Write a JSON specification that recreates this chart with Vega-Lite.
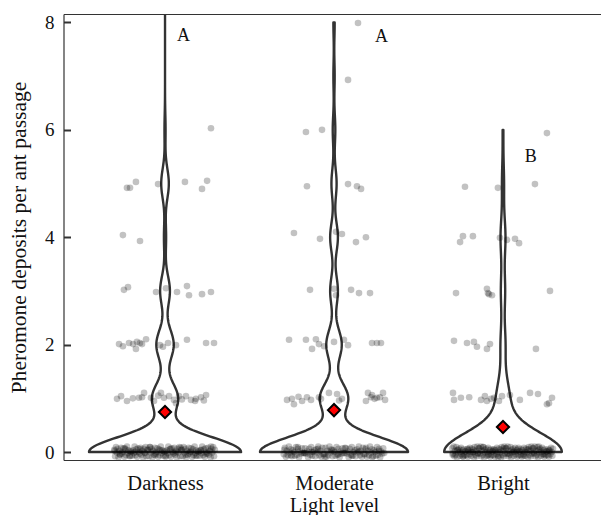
{
"$schema": "https://vega.github.io/schema/vega-lite/v6.json",
"padding": {"left": 7.5, "top": 13, "right": 0, "bottom": 0},
"spacing": 0,
"config": {
  "view": {"stroke": null},
  "font": "Liberation Serif",
  "axis": {"domainColor": "#333333", "domainWidth": 1.2, "grid": false, "labelFont": "Liberation Serif", "titleFont": "Liberation Serif", "titleFontWeight": "normal", "titleColor": "#111111", "labelColor": "#111111", "titleFontSize": 20.5, "labelFontSize": 19}
},
"resolve": {"scale": {"x": "independent", "y": "independent"}},
"datasets": {
"darkness": [
{"value":9,"jx":0.05,"jy":9.0},
{"value":6,"jx":0.272,"jy":6.03},
{"value":5,"jx":-0.225,"jy":4.92},{"value":5,"jx":-0.207,"jy":4.92},{"value":5,"jx":-0.172,"jy":5.03},{"value":5,"jx":-0.041,"jy":4.99},{"value":5,"jx":0.118,"jy":5.03},{"value":5,"jx":0.249,"jy":5.05},{"value":5,"jx":0.219,"jy":4.9},
{"value":4,"jx":-0.249,"jy":4.04},{"value":4,"jx":-0.148,"jy":3.93},
{"value":3,"jx":-0.243,"jy":3.02},{"value":3,"jx":-0.219,"jy":3.07},{"value":3,"jx":-0.053,"jy":2.98},{"value":3,"jx":0.006,"jy":3.05},{"value":3,"jx":0.071,"jy":2.98},{"value":3,"jx":0.13,"jy":3.09},{"value":3,"jx":0.142,"jy":2.92},{"value":3,"jx":0.219,"jy":2.94},{"value":3,"jx":0.272,"jy":2.98},
{"value":2,"jx":-0.272,"jy":2.01},{"value":2,"jx":-0.249,"jy":1.97},{"value":2,"jx":-0.213,"jy":2.03},{"value":2,"jx":-0.189,"jy":2.01},{"value":2,"jx":-0.166,"jy":2.05},{"value":2,"jx":-0.148,"jy":2.03},{"value":2,"jx":-0.172,"jy":1.92},{"value":2,"jx":-0.136,"jy":2.01},{"value":2,"jx":-0.112,"jy":2.1},{"value":2,"jx":-0.03,"jy":1.99},{"value":2,"jx":-0.012,"jy":1.96},{"value":2,"jx":0.018,"jy":2.03},{"value":2,"jx":0.065,"jy":1.99},{"value":2,"jx":0.13,"jy":2.09},{"value":2,"jx":0.243,"jy":2.03},{"value":2,"jx":0.29,"jy":2.03},
{"value":1,"jx":-0.26,"jy":1.04},{"value":1,"jx":-0.284,"jy":0.99},{"value":1,"jx":-0.225,"jy":0.95},{"value":1,"jx":-0.154,"jy":1.01},{"value":1,"jx":-0.124,"jy":1.1},{"value":1,"jx":-0.083,"jy":1.01},{"value":1,"jx":-0.065,"jy":0.95},{"value":1,"jx":-0.024,"jy":1.1},{"value":1,"jx":-0.006,"jy":1.01},{"value":1,"jx":0.024,"jy":1.04},{"value":1,"jx":0.053,"jy":0.97},{"value":1,"jx":0.083,"jy":1.04},{"value":1,"jx":0.124,"jy":1.04},{"value":1,"jx":0.154,"jy":0.97},{"value":1,"jx":0.183,"jy":0.99},{"value":1,"jx":0.213,"jy":1.02},{"value":1,"jx":0.243,"jy":1.06},{"value":1,"jx":0.065,"jy":0.91},{"value":1,"jx":-0.136,"jy":1.02},{"value":1,"jx":0.178,"jy":0.95},
{"value":1,"jx":-0.19,"jy":1.0},{"value":1,"jx":0.1,"jy":0.98},{"value":1,"jx":-0.04,"jy":1.05},{"value":1,"jx":0.23,"jy":0.96},
{"value":0,"jx":-0.3,"jy":0.04},{"value":0,"jx":-0.295,"jy":-0.08},{"value":0,"jx":-0.29,"jy":0.09},{"value":0,"jx":-0.285,"jy":-0.01},{"value":0,"jx":-0.28,"jy":0.06},{"value":0,"jx":-0.275,"jy":-0.1},{"value":0,"jx":-0.27,"jy":0.02},{"value":0,"jx":-0.265,"jy":-0.05},{"value":0,"jx":-0.26,"jy":0.08},{"value":0,"jx":-0.255,"jy":-0.03},
{"value":0,"jx":-0.25,"jy":0.0},{"value":0,"jx":-0.245,"jy":0.07},{"value":0,"jx":-0.24,"jy":-0.09},{"value":0,"jx":-0.235,"jy":0.05},{"value":0,"jx":-0.23,"jy":-0.06},{"value":0,"jx":-0.225,"jy":0.1},{"value":0,"jx":-0.22,"jy":-0.02},{"value":0,"jx":-0.215,"jy":0.03},{"value":0,"jx":-0.21,"jy":-0.07},{"value":0,"jx":-0.205,"jy":0.01},
{"value":0,"jx":-0.2,"jy":0.01},{"value":0,"jx":-0.195,"jy":-0.07},{"value":0,"jx":-0.19,"jy":0.03},{"value":0,"jx":-0.185,"jy":-0.02},{"value":0,"jx":-0.18,"jy":0.1},{"value":0,"jx":-0.175,"jy":-0.06},{"value":0,"jx":-0.17,"jy":0.05},{"value":0,"jx":-0.165,"jy":-0.09},{"value":0,"jx":-0.16,"jy":0.07},{"value":0,"jx":-0.155,"jy":0.0},
{"value":0,"jx":-0.15,"jy":-0.03},{"value":0,"jx":-0.145,"jy":0.08},{"value":0,"jx":-0.14,"jy":-0.05},{"value":0,"jx":-0.135,"jy":0.02},{"value":0,"jx":-0.13,"jy":-0.1},{"value":0,"jx":-0.125,"jy":0.06},{"value":0,"jx":-0.12,"jy":-0.01},{"value":0,"jx":-0.115,"jy":0.09},{"value":0,"jx":-0.11,"jy":-0.08},{"value":0,"jx":-0.105,"jy":0.04},
{"value":0,"jx":-0.1,"jy":0.04},{"value":0,"jx":-0.095,"jy":-0.08},{"value":0,"jx":-0.09,"jy":0.09},{"value":0,"jx":-0.085,"jy":-0.01},{"value":0,"jx":-0.08,"jy":0.06},{"value":0,"jx":-0.075,"jy":-0.1},{"value":0,"jx":-0.07,"jy":0.02},{"value":0,"jx":-0.065,"jy":-0.05},{"value":0,"jx":-0.06,"jy":0.08},{"value":0,"jx":-0.055,"jy":-0.03},
{"value":0,"jx":-0.05,"jy":0.0},{"value":0,"jx":-0.045,"jy":0.07},{"value":0,"jx":-0.04,"jy":-0.09},{"value":0,"jx":-0.035,"jy":0.05},{"value":0,"jx":-0.03,"jy":-0.06},{"value":0,"jx":-0.025,"jy":0.1},{"value":0,"jx":-0.02,"jy":-0.02},{"value":0,"jx":-0.015,"jy":0.03},{"value":0,"jx":-0.01,"jy":-0.07},{"value":0,"jx":-0.005,"jy":0.01},
{"value":0,"jx":0.0,"jy":0.01},{"value":0,"jx":0.005,"jy":-0.07},{"value":0,"jx":0.01,"jy":0.03},{"value":0,"jx":0.015,"jy":-0.02},{"value":0,"jx":0.02,"jy":0.1},{"value":0,"jx":0.025,"jy":-0.06},{"value":0,"jx":0.03,"jy":0.05},{"value":0,"jx":0.035,"jy":-0.09},{"value":0,"jx":0.04,"jy":0.07},{"value":0,"jx":0.045,"jy":0.0},
{"value":0,"jx":0.05,"jy":-0.03},{"value":0,"jx":0.055,"jy":0.08},{"value":0,"jx":0.06,"jy":-0.05},{"value":0,"jx":0.065,"jy":0.02},{"value":0,"jx":0.07,"jy":-0.1},{"value":0,"jx":0.075,"jy":0.06},{"value":0,"jx":0.08,"jy":-0.01},{"value":0,"jx":0.085,"jy":0.09},{"value":0,"jx":0.09,"jy":-0.08},{"value":0,"jx":0.095,"jy":0.04},
{"value":0,"jx":0.1,"jy":0.04},{"value":0,"jx":0.105,"jy":-0.08},{"value":0,"jx":0.11,"jy":0.09},{"value":0,"jx":0.115,"jy":-0.01},{"value":0,"jx":0.12,"jy":0.06},{"value":0,"jx":0.125,"jy":-0.1},{"value":0,"jx":0.13,"jy":0.02},{"value":0,"jx":0.135,"jy":-0.05},{"value":0,"jx":0.14,"jy":0.08},{"value":0,"jx":0.145,"jy":-0.03},
{"value":0,"jx":0.15,"jy":0.0},{"value":0,"jx":0.155,"jy":0.07},{"value":0,"jx":0.16,"jy":-0.09},{"value":0,"jx":0.165,"jy":0.05},{"value":0,"jx":0.17,"jy":-0.06},{"value":0,"jx":0.175,"jy":0.1},{"value":0,"jx":0.18,"jy":-0.02},{"value":0,"jx":0.185,"jy":0.03},{"value":0,"jx":0.19,"jy":-0.07},{"value":0,"jx":0.195,"jy":0.01},
{"value":0,"jx":0.2,"jy":0.01},{"value":0,"jx":0.205,"jy":-0.07},{"value":0,"jx":0.21,"jy":0.03},{"value":0,"jx":0.215,"jy":-0.02},{"value":0,"jx":0.22,"jy":0.1},{"value":0,"jx":0.225,"jy":-0.06},{"value":0,"jx":0.23,"jy":0.05},{"value":0,"jx":0.235,"jy":-0.09},{"value":0,"jx":0.24,"jy":0.07},{"value":0,"jx":0.245,"jy":0.0},
{"value":0,"jx":0.25,"jy":-0.03},{"value":0,"jx":0.255,"jy":0.08},{"value":0,"jx":0.26,"jy":-0.05},{"value":0,"jx":0.265,"jy":0.02},{"value":0,"jx":0.27,"jy":-0.1},{"value":0,"jx":0.275,"jy":0.06},{"value":0,"jx":0.28,"jy":-0.01},{"value":0,"jx":0.285,"jy":0.09},{"value":0,"jx":0.29,"jy":-0.08},{"value":0,"jx":0.295,"jy":0.04},
{"value":0,"jx":-0.2975,"jy":0.02},{"value":0,"jx":-0.2675,"jy":-0.04},{"value":0,"jx":-0.2375,"jy":0.07},{"value":0,"jx":-0.2075,"jy":-0.08},{"value":0,"jx":-0.1775,"jy":0.0},{"value":0,"jx":-0.1475,"jy":0.05},{"value":0,"jx":-0.1175,"jy":-0.02},{"value":0,"jx":-0.0875,"jy":0.09},{"value":0,"jx":-0.0575,"jy":-0.06},{"value":0,"jx":-0.0275,"jy":0.03},
{"value":0,"jx":0.0025,"jy":-0.09},{"value":0,"jx":0.0325,"jy":0.06},{"value":0,"jx":0.0625,"jy":-0.01},{"value":0,"jx":0.0925,"jy":0.08},{"value":0,"jx":0.1225,"jy":-0.05},{"value":0,"jx":0.1525,"jy":0.01},{"value":0,"jx":0.1825,"jy":-0.07},{"value":0,"jx":0.2125,"jy":0.04},{"value":0,"jx":0.2425,"jy":-0.03},{"value":0,"jx":0.2725,"jy":0.1}
],
"moderate": [
{"value":8,"jx":0.142,"jy":7.99},{"value":7,"jx":0.083,"jy":6.93},{"value":6,"jx":-0.166,"jy":5.96},{"value":6,"jx":-0.071,"jy":6.0},
{"value":5,"jx":-0.16,"jy":4.95},{"value":5,"jx":0.083,"jy":4.99},{"value":5,"jx":0.136,"jy":4.95},{"value":5,"jx":0.16,"jy":4.9},
{"value":4,"jx":-0.237,"jy":4.08},{"value":4,"jx":-0.083,"jy":3.97},{"value":4,"jx":0.012,"jy":4.1},{"value":4,"jx":0.047,"jy":4.06},{"value":4,"jx":0.13,"jy":3.91},{"value":4,"jx":0.189,"jy":4.0},
{"value":3,"jx":-0.142,"jy":3.02},{"value":3,"jx":0.0,"jy":3.04},{"value":3,"jx":0.012,"jy":2.92},{"value":3,"jx":0.101,"jy":3.02},{"value":3,"jx":0.148,"jy":2.96},{"value":3,"jx":0.213,"jy":2.96},
{"value":2,"jx":-0.266,"jy":2.09},{"value":2,"jx":-0.166,"jy":2.09},{"value":2,"jx":-0.107,"jy":2.1},{"value":2,"jx":-0.13,"jy":1.92},{"value":2,"jx":-0.089,"jy":2.01},{"value":2,"jx":-0.059,"jy":1.97},{"value":2,"jx":0.0,"jy":2.05},{"value":2,"jx":0.059,"jy":2.09},{"value":2,"jx":0.083,"jy":1.99},{"value":2,"jx":0.225,"jy":2.03},{"value":2,"jx":0.254,"jy":2.03},{"value":2,"jx":0.278,"jy":2.03},
{"value":1,"jx":-0.278,"jy":0.97},{"value":1,"jx":-0.249,"jy":0.99},{"value":1,"jx":-0.237,"jy":0.89},{"value":1,"jx":-0.189,"jy":0.95},{"value":1,"jx":-0.16,"jy":1.02},{"value":1,"jx":-0.089,"jy":1.02},{"value":1,"jx":-0.077,"jy":0.99},{"value":1,"jx":-0.03,"jy":1.1},{"value":1,"jx":0.018,"jy":1.08},{"value":1,"jx":0.047,"jy":0.99},{"value":1,"jx":0.189,"jy":0.95},{"value":1,"jx":0.201,"jy":1.1},{"value":1,"jx":0.225,"jy":1.06},{"value":1,"jx":0.254,"jy":1.01},{"value":1,"jx":0.29,"jy":1.1},{"value":1,"jx":0.302,"jy":0.97},{"value":1,"jx":0.219,"jy":1.02},{"value":1,"jx":-0.136,"jy":0.97},{"value":1,"jx":0.272,"jy":1.02},
{"value":1,"jx":-0.21,"jy":1.03},{"value":1,"jx":0.03,"jy":0.96},{"value":1,"jx":0.24,"jy":0.99},
{"value":0,"jx":-0.297,"jy":-0.04},{"value":0,"jx":-0.291,"jy":0.08},{"value":0,"jx":-0.285,"jy":-0.09},{"value":0,"jx":-0.279,"jy":0.02},{"value":0,"jx":-0.273,"jy":-0.06},{"value":0,"jx":-0.267,"jy":0.1},{"value":0,"jx":-0.261,"jy":-0.01},{"value":0,"jx":-0.255,"jy":0.05},{"value":0,"jx":-0.249,"jy":-0.08},{"value":0,"jx":-0.243,"jy":0.03},
{"value":0,"jx":-0.237,"jy":0.0},{"value":0,"jx":-0.231,"jy":-0.07},{"value":0,"jx":-0.225,"jy":0.09},{"value":0,"jx":-0.219,"jy":-0.05},{"value":0,"jx":-0.213,"jy":0.06},{"value":0,"jx":-0.207,"jy":-0.1},{"value":0,"jx":-0.201,"jy":0.01},{"value":0,"jx":-0.195,"jy":-0.03},{"value":0,"jx":-0.189,"jy":0.07},{"value":0,"jx":-0.183,"jy":-0.02},
{"value":0,"jx":-0.177,"jy":-0.02},{"value":0,"jx":-0.171,"jy":0.07},{"value":0,"jx":-0.165,"jy":-0.03},{"value":0,"jx":-0.159,"jy":0.01},{"value":0,"jx":-0.153,"jy":-0.1},{"value":0,"jx":-0.147,"jy":0.06},{"value":0,"jx":-0.141,"jy":-0.05},{"value":0,"jx":-0.135,"jy":0.09},{"value":0,"jx":-0.129,"jy":-0.07},{"value":0,"jx":-0.123,"jy":0.0},
{"value":0,"jx":-0.117,"jy":0.03},{"value":0,"jx":-0.111,"jy":-0.08},{"value":0,"jx":-0.105,"jy":0.05},{"value":0,"jx":-0.099,"jy":-0.01},{"value":0,"jx":-0.093,"jy":0.1},{"value":0,"jx":-0.087,"jy":-0.06},{"value":0,"jx":-0.081,"jy":0.02},{"value":0,"jx":-0.075,"jy":-0.09},{"value":0,"jx":-0.069,"jy":0.08},{"value":0,"jx":-0.063,"jy":-0.04},
{"value":0,"jx":-0.057,"jy":-0.04},{"value":0,"jx":-0.051,"jy":0.08},{"value":0,"jx":-0.045,"jy":-0.09},{"value":0,"jx":-0.039,"jy":0.02},{"value":0,"jx":-0.033,"jy":-0.06},{"value":0,"jx":-0.027,"jy":0.1},{"value":0,"jx":-0.021,"jy":-0.01},{"value":0,"jx":-0.015,"jy":0.05},{"value":0,"jx":-0.009,"jy":-0.08},{"value":0,"jx":-0.003,"jy":0.03},
{"value":0,"jx":0.003,"jy":0.0},{"value":0,"jx":0.009,"jy":-0.07},{"value":0,"jx":0.015,"jy":0.09},{"value":0,"jx":0.021,"jy":-0.05},{"value":0,"jx":0.027,"jy":0.06},{"value":0,"jx":0.033,"jy":-0.1},{"value":0,"jx":0.039,"jy":0.01},{"value":0,"jx":0.045,"jy":-0.03},{"value":0,"jx":0.051,"jy":0.07},{"value":0,"jx":0.057,"jy":-0.02},
{"value":0,"jx":0.063,"jy":-0.02},{"value":0,"jx":0.069,"jy":0.07},{"value":0,"jx":0.075,"jy":-0.03},{"value":0,"jx":0.081,"jy":0.01},{"value":0,"jx":0.087,"jy":-0.1},{"value":0,"jx":0.093,"jy":0.06},{"value":0,"jx":0.099,"jy":-0.05},{"value":0,"jx":0.105,"jy":0.09},{"value":0,"jx":0.111,"jy":-0.07},{"value":0,"jx":0.117,"jy":0.0},
{"value":0,"jx":0.123,"jy":0.03},{"value":0,"jx":0.129,"jy":-0.08},{"value":0,"jx":0.135,"jy":0.05},{"value":0,"jx":0.141,"jy":-0.01},{"value":0,"jx":0.147,"jy":0.1},{"value":0,"jx":0.153,"jy":-0.06},{"value":0,"jx":0.159,"jy":0.02},{"value":0,"jx":0.165,"jy":-0.09},{"value":0,"jx":0.171,"jy":0.08},{"value":0,"jx":0.177,"jy":-0.04},
{"value":0,"jx":0.183,"jy":-0.04},{"value":0,"jx":0.189,"jy":0.08},{"value":0,"jx":0.195,"jy":-0.09},{"value":0,"jx":0.201,"jy":0.02},{"value":0,"jx":0.207,"jy":-0.06},{"value":0,"jx":0.213,"jy":0.1},{"value":0,"jx":0.219,"jy":-0.01},{"value":0,"jx":0.225,"jy":0.05},{"value":0,"jx":0.231,"jy":-0.08},{"value":0,"jx":0.237,"jy":0.03},
{"value":0,"jx":0.243,"jy":0.0},{"value":0,"jx":0.249,"jy":-0.07},{"value":0,"jx":0.255,"jy":0.09},{"value":0,"jx":0.261,"jy":-0.05},{"value":0,"jx":0.267,"jy":0.06},{"value":0,"jx":0.273,"jy":-0.1},{"value":0,"jx":0.279,"jy":0.01},{"value":0,"jx":0.285,"jy":-0.03},{"value":0,"jx":0.291,"jy":0.07},{"value":0,"jx":0.297,"jy":-0.02},
{"value":0,"jx":-0.294,"jy":0.04},{"value":0,"jx":-0.254,"jy":-0.06},{"value":0,"jx":-0.214,"jy":0.09},{"value":0,"jx":-0.174,"jy":-0.02},{"value":0,"jx":-0.134,"jy":0.0},{"value":0,"jx":-0.094,"jy":0.06},{"value":0,"jx":-0.054,"jy":-0.09},{"value":0,"jx":-0.014,"jy":0.03},{"value":0,"jx":0.026,"jy":-0.04},{"value":0,"jx":0.066,"jy":0.08},
{"value":0,"jx":0.106,"jy":-0.07},{"value":0,"jx":0.146,"jy":0.01},{"value":0,"jx":0.186,"jy":0.05},{"value":0,"jx":0.226,"jy":-0.1},{"value":0,"jx":0.266,"jy":0.02}
],
"bright": [
{"value":6,"jx":0.26,"jy":5.94},
{"value":5,"jx":-0.225,"jy":4.94},{"value":5,"jx":-0.03,"jy":4.92},{"value":5,"jx":0.189,"jy":4.99},
{"value":4,"jx":-0.237,"jy":4.02},{"value":4,"jx":-0.254,"jy":3.91},{"value":4,"jx":-0.178,"jy":4.02},{"value":4,"jx":-0.018,"jy":3.99},{"value":4,"jx":0.024,"jy":3.95},{"value":4,"jx":0.071,"jy":3.97},{"value":4,"jx":0.095,"jy":3.89},
{"value":3,"jx":-0.278,"jy":2.96},{"value":3,"jx":-0.095,"jy":3.04},{"value":3,"jx":-0.089,"jy":2.96},{"value":3,"jx":-0.065,"jy":2.92},{"value":3,"jx":0.278,"jy":3.0},{"value":3,"jx":-0.083,"jy":2.94},
{"value":2,"jx":-0.29,"jy":2.07},{"value":2,"jx":-0.213,"jy":2.03},{"value":2,"jx":-0.172,"jy":2.05},{"value":2,"jx":-0.154,"jy":1.96},{"value":2,"jx":-0.095,"jy":1.92},{"value":2,"jx":-0.077,"jy":2.01},{"value":2,"jx":0.195,"jy":1.92},
{"value":1,"jx":-0.296,"jy":1.1},{"value":1,"jx":-0.29,"jy":0.97},{"value":1,"jx":-0.249,"jy":1.01},{"value":1,"jx":-0.13,"jy":0.97},{"value":1,"jx":-0.107,"jy":1.04},{"value":1,"jx":-0.095,"jy":0.95},{"value":1,"jx":-0.053,"jy":1.01},{"value":1,"jx":-0.024,"jy":0.95},{"value":1,"jx":-0.006,"jy":1.04},{"value":1,"jx":0.041,"jy":1.06},{"value":1,"jx":0.16,"jy":1.1},{"value":1,"jx":0.207,"jy":1.08},{"value":1,"jx":0.29,"jy":1.01},{"value":1,"jx":0.272,"jy":0.91},{"value":1,"jx":0.26,"jy":0.89},{"value":1,"jx":-0.071,"jy":0.99},
{"value":1,"jx":-0.2,"jy":1.02},{"value":1,"jx":0.1,"jy":0.97},
{"value":0,"jx":-0.3,"jy":0.07},{"value":0,"jx":-0.296,"jy":-0.03},{"value":0,"jx":-0.292,"jy":0.1},{"value":0,"jx":-0.288,"jy":-0.08},{"value":0,"jx":-0.284,"jy":0.02},{"value":0,"jx":-0.28,"jy":-0.05},{"value":0,"jx":-0.276,"jy":0.09},{"value":0,"jx":-0.272,"jy":-0.1},{"value":0,"jx":-0.268,"jy":0.04},{"value":0,"jx":-0.264,"jy":-0.01},
{"value":0,"jx":-0.26,"jy":0.06},{"value":0,"jx":-0.256,"jy":-0.07},{"value":0,"jx":-0.252,"jy":0.0},{"value":0,"jx":-0.248,"jy":0.08},{"value":0,"jx":-0.244,"jy":-0.04},{"value":0,"jx":-0.24,"jy":0.03},{"value":0,"jx":-0.236,"jy":-0.09},{"value":0,"jx":-0.232,"jy":0.05},{"value":0,"jx":-0.228,"jy":-0.06},{"value":0,"jx":-0.224,"jy":0.01},
{"value":0,"jx":-0.22,"jy":0.01},{"value":0,"jx":-0.216,"jy":-0.06},{"value":0,"jx":-0.212,"jy":0.05},{"value":0,"jx":-0.208,"jy":-0.09},{"value":0,"jx":-0.204,"jy":0.03},{"value":0,"jx":-0.2,"jy":-0.04},{"value":0,"jx":-0.196,"jy":0.08},{"value":0,"jx":-0.192,"jy":0.0},{"value":0,"jx":-0.188,"jy":-0.07},{"value":0,"jx":-0.184,"jy":0.06},
{"value":0,"jx":-0.18,"jy":-0.01},{"value":0,"jx":-0.176,"jy":0.04},{"value":0,"jx":-0.172,"jy":-0.1},{"value":0,"jx":-0.168,"jy":0.09},{"value":0,"jx":-0.164,"jy":-0.05},{"value":0,"jx":-0.16,"jy":0.02},{"value":0,"jx":-0.156,"jy":-0.08},{"value":0,"jx":-0.152,"jy":0.1},{"value":0,"jx":-0.148,"jy":-0.03},{"value":0,"jx":-0.144,"jy":0.07},
{"value":0,"jx":-0.14,"jy":0.07},{"value":0,"jx":-0.136,"jy":-0.03},{"value":0,"jx":-0.132,"jy":0.1},{"value":0,"jx":-0.128,"jy":-0.08},{"value":0,"jx":-0.124,"jy":0.02},{"value":0,"jx":-0.12,"jy":-0.05},{"value":0,"jx":-0.116,"jy":0.09},{"value":0,"jx":-0.112,"jy":-0.1},{"value":0,"jx":-0.108,"jy":0.04},{"value":0,"jx":-0.104,"jy":-0.01},
{"value":0,"jx":-0.1,"jy":0.06},{"value":0,"jx":-0.096,"jy":-0.07},{"value":0,"jx":-0.092,"jy":0.0},{"value":0,"jx":-0.088,"jy":0.08},{"value":0,"jx":-0.084,"jy":-0.04},{"value":0,"jx":-0.08,"jy":0.03},{"value":0,"jx":-0.076,"jy":-0.09},{"value":0,"jx":-0.072,"jy":0.05},{"value":0,"jx":-0.068,"jy":-0.06},{"value":0,"jx":-0.064,"jy":0.01},
{"value":0,"jx":-0.06,"jy":0.01},{"value":0,"jx":-0.056,"jy":-0.06},{"value":0,"jx":-0.052,"jy":0.05},{"value":0,"jx":-0.048,"jy":-0.09},{"value":0,"jx":-0.044,"jy":0.03},{"value":0,"jx":-0.04,"jy":-0.04},{"value":0,"jx":-0.036,"jy":0.08},{"value":0,"jx":-0.032,"jy":0.0},{"value":0,"jx":-0.028,"jy":-0.07},{"value":0,"jx":-0.024,"jy":0.06},
{"value":0,"jx":-0.02,"jy":-0.01},{"value":0,"jx":-0.016,"jy":0.04},{"value":0,"jx":-0.012,"jy":-0.1},{"value":0,"jx":-0.008,"jy":0.09},{"value":0,"jx":-0.004,"jy":-0.05},{"value":0,"jx":0.0,"jy":0.02},{"value":0,"jx":0.004,"jy":-0.08},{"value":0,"jx":0.008,"jy":0.1},{"value":0,"jx":0.012,"jy":-0.03},{"value":0,"jx":0.016,"jy":0.07},
{"value":0,"jx":0.02,"jy":0.07},{"value":0,"jx":0.024,"jy":-0.03},{"value":0,"jx":0.028,"jy":0.1},{"value":0,"jx":0.032,"jy":-0.08},{"value":0,"jx":0.036,"jy":0.02},{"value":0,"jx":0.04,"jy":-0.05},{"value":0,"jx":0.044,"jy":0.09},{"value":0,"jx":0.048,"jy":-0.1},{"value":0,"jx":0.052,"jy":0.04},{"value":0,"jx":0.056,"jy":-0.01},
{"value":0,"jx":0.06,"jy":0.06},{"value":0,"jx":0.064,"jy":-0.07},{"value":0,"jx":0.068,"jy":0.0},{"value":0,"jx":0.072,"jy":0.08},{"value":0,"jx":0.076,"jy":-0.04},{"value":0,"jx":0.08,"jy":0.03},{"value":0,"jx":0.084,"jy":-0.09},{"value":0,"jx":0.088,"jy":0.05},{"value":0,"jx":0.092,"jy":-0.06},{"value":0,"jx":0.096,"jy":0.01},
{"value":0,"jx":0.1,"jy":0.01},{"value":0,"jx":0.104,"jy":-0.06},{"value":0,"jx":0.108,"jy":0.05},{"value":0,"jx":0.112,"jy":-0.09},{"value":0,"jx":0.116,"jy":0.03},{"value":0,"jx":0.12,"jy":-0.04},{"value":0,"jx":0.124,"jy":0.08},{"value":0,"jx":0.128,"jy":0.0},{"value":0,"jx":0.132,"jy":-0.07},{"value":0,"jx":0.136,"jy":0.06},
{"value":0,"jx":0.14,"jy":-0.01},{"value":0,"jx":0.144,"jy":0.04},{"value":0,"jx":0.148,"jy":-0.1},{"value":0,"jx":0.152,"jy":0.09},{"value":0,"jx":0.156,"jy":-0.05},{"value":0,"jx":0.16,"jy":0.02},{"value":0,"jx":0.164,"jy":-0.08},{"value":0,"jx":0.168,"jy":0.1},{"value":0,"jx":0.172,"jy":-0.03},{"value":0,"jx":0.176,"jy":0.07},
{"value":0,"jx":0.18,"jy":0.07},{"value":0,"jx":0.184,"jy":-0.03},{"value":0,"jx":0.188,"jy":0.1},{"value":0,"jx":0.192,"jy":-0.08},{"value":0,"jx":0.196,"jy":0.02},{"value":0,"jx":0.2,"jy":-0.05},{"value":0,"jx":0.204,"jy":0.09},{"value":0,"jx":0.208,"jy":-0.1},{"value":0,"jx":0.212,"jy":0.04},{"value":0,"jx":0.216,"jy":-0.01},
{"value":0,"jx":0.22,"jy":0.06},{"value":0,"jx":0.224,"jy":-0.07},{"value":0,"jx":0.228,"jy":0.0},{"value":0,"jx":0.232,"jy":0.08},{"value":0,"jx":0.236,"jy":-0.04},{"value":0,"jx":0.24,"jy":0.03},{"value":0,"jx":0.244,"jy":-0.09},{"value":0,"jx":0.248,"jy":0.05},{"value":0,"jx":0.252,"jy":-0.06},{"value":0,"jx":0.256,"jy":0.01},
{"value":0,"jx":0.26,"jy":0.01},{"value":0,"jx":0.264,"jy":-0.06},{"value":0,"jx":0.268,"jy":0.05},{"value":0,"jx":0.272,"jy":-0.09},{"value":0,"jx":0.276,"jy":0.03},{"value":0,"jx":0.28,"jy":-0.04},{"value":0,"jx":0.284,"jy":0.08},{"value":0,"jx":0.288,"jy":0.0},{"value":0,"jx":0.292,"jy":-0.07},{"value":0,"jx":0.296,"jy":0.06},
{"value":0,"jx":-0.298,"jy":-0.05},{"value":0,"jx":-0.268,"jy":0.03},{"value":0,"jx":-0.238,"jy":-0.08},{"value":0,"jx":-0.208,"jy":0.06},{"value":0,"jx":-0.178,"jy":0.0},{"value":0,"jx":-0.148,"jy":-0.02},{"value":0,"jx":-0.118,"jy":0.09},{"value":0,"jx":-0.088,"jy":-0.06},{"value":0,"jx":-0.058,"jy":0.04},{"value":0,"jx":-0.028,"jy":-0.1},
{"value":0,"jx":0.002,"jy":0.07},{"value":0,"jx":0.032,"jy":-0.03},{"value":0,"jx":0.062,"jy":0.01},{"value":0,"jx":0.092,"jy":0.08},{"value":0,"jx":0.122,"jy":-0.07},{"value":0,"jx":0.152,"jy":0.05},{"value":0,"jx":0.182,"jy":-0.01},{"value":0,"jx":0.212,"jy":0.1},{"value":0,"jx":0.242,"jy":-0.04},{"value":0,"jx":0.272,"jy":0.02}
]
},
"hconcat": [
{
 "width": 186, "height": 446,
 "resolve": {"scale": {"x": "independent"}},
 "layer": [
  {
   "data": {"name": "darkness"},
   "transform": [{"density": "value", "bandwidth": 0.28, "steps": 400}],
   "mark": {"type": "area", "orient": "horizontal", "fillOpacity": 0, "stroke": "#333333", "strokeWidth": 2.4, "strokeJoin": "round", "clip": true},
   "encoding": {
    "y": {"field": "value", "type": "quantitative", "scale": {"domain": [-0.149, 8.158], "nice": false, "zero": false},
          "axis": {"values": [0, 2, 4, 6, 8], "tickSize": -7, "tickWidth": 2, "tickColor": "#333333", "labelPadding": 16.5, "title": "Pheromone deposits per ant passage", "titleFontSize": 21.6, "titlePadding": 14.5}},
    "x": {"field": "density", "type": "quantitative", "stack": "center", "impute": null, "scale": {"domain": [-0.1673, 1.0531], "nice": false, "zero": false},
          "axis": {"orient": "bottom", "labels": false, "ticks": false, "title": "Darkness", "titleX": 101.5, "titleAlign": "center", "titlePadding": 13.5}}
   }
  },
  {
   "data": {"name": "darkness"},
   "mark": {"type": "circle", "size": 44, "color": "#000000", "opacity": 0.24, "clip": true},
   "encoding": {
    "x": {"field": "jx", "type": "quantitative", "scale": {"domain": [-0.6006, 0.5], "nice": false, "zero": false}, "axis": {"orient": "top", "labels": false, "ticks": false, "title": null}},
    "y": {"field": "jy", "type": "quantitative", "scale": {"domain": [-0.149, 8.158], "nice": false, "zero": false},
          "axis": {"values": [0, 2, 4, 6, 8], "tickSize": -7, "tickWidth": 2, "tickColor": "#333333", "labelPadding": 16.5, "title": "Pheromone deposits per ant passage", "titleFontSize": 21.6, "titlePadding": 14.5}}
   }
  },
  {
   "data": {"values": [{"jx": 0, "mean": 0.745}]},
   "mark": {"type": "point", "shape": "diamond", "filled": true, "fill": "#ff0000", "stroke": "#000000", "strokeWidth": 2, "size": 150, "opacity": 1},
   "encoding": {
    "x": {"field": "jx", "type": "quantitative", "scale": {"domain": [-0.6006, 0.5], "nice": false, "zero": false}, "axis": null},
    "y": {"field": "mean", "type": "quantitative", "scale": {"domain": [-0.149, 8.158], "nice": false, "zero": false},
          "axis": {"values": [0, 2, 4, 6, 8], "tickSize": -7, "tickWidth": 2, "tickColor": "#333333", "labelPadding": 16.5, "title": "Pheromone deposits per ant passage", "titleFontSize": 21.6, "titlePadding": 14.5}}
   }
  },
  {
   "data": {"values": [{"jx": 0.109, "jy": 7.655, "label": "A"}]},
   "mark": {"type": "text", "font": "Liberation Serif", "fontSize": 18, "color": "#111111", "baseline": "alphabetic", "align": "center"},
   "encoding": {
    "x": {"field": "jx", "type": "quantitative", "scale": {"domain": [-0.6006, 0.5], "nice": false, "zero": false}, "axis": null},
    "y": {"field": "jy", "type": "quantitative", "scale": {"domain": [-0.149, 8.158], "nice": false, "zero": false},
          "axis": {"values": [0, 2, 4, 6, 8], "tickSize": -7, "tickWidth": 2, "tickColor": "#333333", "labelPadding": 16.5, "title": "Pheromone deposits per ant passage", "titleFontSize": 21.6, "titlePadding": 14.5}},
    "text": {"field": "label"}
   }
  }
 ]
},
{
 "width": 169, "height": 446,
 "resolve": {"scale": {"x": "independent"}},
 "layer": [
  {
   "data": {"name": "moderate"},
   "transform": [{"density": "value", "bandwidth": 0.28, "steps": 400}],
   "mark": {"type": "area", "orient": "horizontal", "fillOpacity": 0, "stroke": "#333333", "strokeWidth": 2.4, "strokeJoin": "round", "clip": true},
   "encoding": {
    "y": {"field": "value", "type": "quantitative", "scale": {"domain": [-0.149, 8.158], "nice": false, "zero": false}, "axis": null},
    "x": {"field": "density", "type": "quantitative", "stack": "center", "impute": null, "scale": {"domain": [-0.0688, 1.0383], "nice": false, "zero": false},
          "axis": {"orient": "bottom", "labels": false, "ticks": false, "title": ["Moderate", "Light level"], "titleLineHeight": 22, "titleAlign": "center", "titlePadding": 13.5}}
   }
  },
  {
   "data": {"name": "moderate"},
   "mark": {"type": "circle", "size": 44, "color": "#000000", "opacity": 0.24, "clip": true},
   "encoding": {
    "x": {"field": "jx", "type": "quantitative", "scale": {"domain": [-0.5, 0.5], "nice": false, "zero": false}, "axis": {"orient": "top", "labels": false, "ticks": false, "title": null}},
    "y": {"field": "jy", "type": "quantitative", "scale": {"domain": [-0.149, 8.158], "nice": false, "zero": false}, "axis": null}
   }
  },
  {
   "data": {"values": [{"jx": 0, "mean": 0.78}]},
   "mark": {"type": "point", "shape": "diamond", "filled": true, "fill": "#ff0000", "stroke": "#000000", "strokeWidth": 2, "size": 150, "opacity": 1},
   "encoding": {
    "x": {"field": "jx", "type": "quantitative", "scale": {"domain": [-0.5, 0.5], "nice": false, "zero": false}, "axis": null},
    "y": {"field": "mean", "type": "quantitative", "scale": {"domain": [-0.149, 8.158], "nice": false, "zero": false}, "axis": null}
   }
  },
  {
   "data": {"values": [{"jx": 0.281, "jy": 7.64, "label": "A"}]},
   "mark": {"type": "text", "font": "Liberation Serif", "fontSize": 18, "color": "#111111", "baseline": "alphabetic", "align": "center"},
   "encoding": {
    "x": {"field": "jx", "type": "quantitative", "scale": {"domain": [-0.5, 0.5], "nice": false, "zero": false}, "axis": null},
    "y": {"field": "jy", "type": "quantitative", "scale": {"domain": [-0.149, 8.158], "nice": false, "zero": false}, "axis": null},
    "text": {"field": "label"}
   }
  }
 ]
},
{
 "width": 184, "height": 446,
 "resolve": {"scale": {"x": "independent"}},
 "layer": [
  {
   "data": {"name": "bright"},
   "transform": [{"density": "value", "bandwidth": 0.364, "steps": 400}],
   "mark": {"type": "area", "orient": "horizontal", "fillOpacity": 0, "stroke": "#333333", "strokeWidth": 2.4, "strokeJoin": "round", "clip": true},
   "encoding": {
    "y": {"field": "value", "type": "quantitative", "scale": {"domain": [-0.149, 8.158], "nice": false, "zero": false}, "axis": null},
    "x": {"field": "density", "type": "quantitative", "stack": "center", "impute": null, "scale": {"domain": [-0.1925, 1.1858], "nice": false, "zero": false},
          "axis": {"orient": "bottom", "labels": false, "ticks": false, "title": "Bright", "titleX": 84.5, "titleAlign": "center", "titlePadding": 13.5}}
   }
  },
  {
   "data": {"name": "bright"},
   "mark": {"type": "circle", "size": 44, "color": "#000000", "opacity": 0.24, "clip": true},
   "encoding": {
    "x": {"field": "jx", "type": "quantitative", "scale": {"domain": [-0.5, 0.5888], "nice": false, "zero": false}, "axis": {"orient": "top", "labels": false, "ticks": false, "title": null}},
    "y": {"field": "jy", "type": "quantitative", "scale": {"domain": [-0.149, 8.158], "nice": false, "zero": false}, "axis": null}
   }
  },
  {
   "data": {"values": [{"jx": 0, "mean": 0.466}]},
   "mark": {"type": "point", "shape": "diamond", "filled": true, "fill": "#ff0000", "stroke": "#000000", "strokeWidth": 2, "size": 150, "opacity": 1},
   "encoding": {
    "x": {"field": "jx", "type": "quantitative", "scale": {"domain": [-0.5, 0.5888], "nice": false, "zero": false}, "axis": null},
    "y": {"field": "mean", "type": "quantitative", "scale": {"domain": [-0.149, 8.158], "nice": false, "zero": false}, "axis": null}
   }
  },
  {
   "data": {"values": [{"jx": 0.164, "jy": 5.4, "label": "B"}]},
   "mark": {"type": "text", "font": "Liberation Serif", "fontSize": 18, "color": "#111111", "baseline": "alphabetic", "align": "center"},
   "encoding": {
    "x": {"field": "jx", "type": "quantitative", "scale": {"domain": [-0.5, 0.5888], "nice": false, "zero": false}, "axis": null},
    "y": {"field": "jy", "type": "quantitative", "scale": {"domain": [-0.149, 8.158], "nice": false, "zero": false}, "axis": null},
    "text": {"field": "label"}
   }
  }
 ]
}
]
}
